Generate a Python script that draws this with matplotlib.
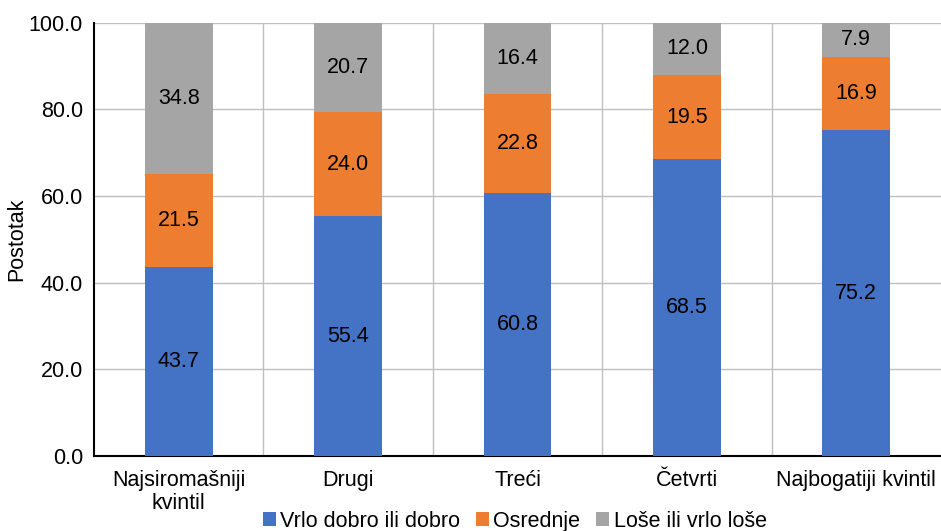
import matplotlib.pyplot as plt
import numpy as np

plt.rcParams['font.family'] = ['Liberation Sans', 'DejaVu Sans']

# Self-rated health by income quintile (%)
categories = ['Najsiromašniji\nkvintil', 'Drugi', 'Treći', 'Četvrti', 'Najbogatiji kvintil']
good = [43.7, 55.4, 60.8, 68.5, 75.2]
average = [21.5, 24.0, 22.8, 19.5, 16.9]
poor = [34.8, 20.7, 16.4, 12.0, 7.9]
series_names = ['Vrlo dobro ili dobro', 'Osrednje', 'Loše ili vrlo loše']
colors = ['#4472c4', '#ed7d31', '#a5a5a5']

fs = 15.5

fig = plt.figure(figsize=(9.41, 5.31), dpi=100)
ax = fig.add_axes([0.1, 0.141, 0.9, 0.816])

x = np.arange(len(categories))
bottom = np.zeros(len(categories))
for vals, name, c in zip([good, average, poor], series_names, colors):
    bars = ax.bar(x, vals, 0.4, bottom=bottom, color=c, label=name, zorder=3)
    for b, v in zip(bars, vals):
        ax.text(b.get_x() + b.get_width() / 2, b.get_y() + v / 2, f'{v:.1f}',
                ha='center', va='center', fontsize=fs, color='black', zorder=4)
    bottom += vals

ax.set_xlim(-0.5, len(categories) - 0.5)
ax.set_ylim(0, 100)
ax.set_yticks(np.arange(0, 101, 20))
ax.set_yticklabels([f'{v:.1f}' for v in np.arange(0, 101, 20)], fontsize=fs)
ax.set_xticks(x)
ax.set_xticklabels(categories, fontsize=fs, linespacing=1.1)
ax.set_xticks(np.arange(0.5, len(categories) - 0.5, 1), minor=True)
ax.tick_params(axis='both', which='both', length=0)
ax.tick_params(axis='x', pad=10)
ax.tick_params(axis='y', pad=8)

ax.grid(axis='y', color='#bfbfbf', linewidth=1, zorder=0)
ax.grid(axis='x', which='minor', color='#bfbfbf', linewidth=1, zorder=0)
for s in ['top', 'right']:
    ax.spines[s].set_visible(False)
ax.spines['left'].set_linewidth(1.5)
ax.spines['bottom'].set_linewidth(1.5)

ax.set_ylabel('Postotak', fontsize=fs)
ax.yaxis.set_label_coords(-0.079, 0.5)

fig.legend(loc='lower center', bbox_to_anchor=(0.547, -0.038), ncol=3, frameon=False,
           fontsize=fs, handlelength=0.6, handleheight=0.6, handletextpad=0.2,
           columnspacing=0.75)

fig.savefig('out.png', dpi=100)
